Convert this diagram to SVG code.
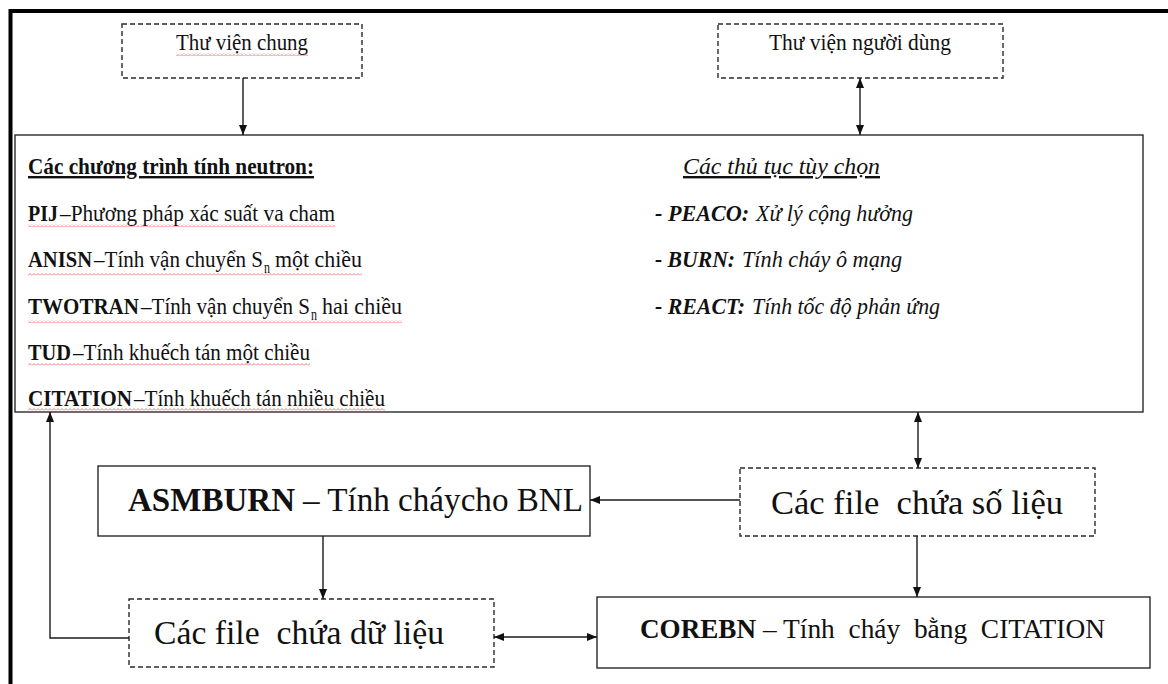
<svg xmlns="http://www.w3.org/2000/svg" width="1168" height="684" viewBox="0 0 1168 684">
<defs>
<style>
text{font-family:"Liberation Serif","Times New Roman",serif;fill:#111}
.box{fill:#fff;stroke:#2a2a2a;stroke-width:1.4}
.dash{fill:#fff;stroke:#2a2a2a;stroke-width:1.4;stroke-dasharray:5 3}
.conn{fill:none;stroke:#1a1a1a;stroke-width:1.4}
.frame{fill:none;stroke:#000;stroke-width:4}
.t23{font-size:23px}
.t24{font-size:24px}
.t27{font-size:27px}
.t33{font-size:33px}
.b{font-weight:bold}
.i{font-style:italic}
.sub{font-size:16px}
.sq{fill:url(#sq);opacity:0.75}
</style>
<marker id="ah" viewBox="0 0 10 8" refX="10" refY="4" markerWidth="10" markerHeight="8" markerUnits="userSpaceOnUse" orient="auto-start-reverse"><path d="M0,0 L10,4 L0,8 z" fill="#111"/></marker>
<pattern id="sq" width="4" height="3" patternUnits="userSpaceOnUse"><path d="M0,2.5 L2,0.5 L4,2.5" fill="none" stroke="#d22" stroke-width="0.8"/></pattern>
</defs>
<rect width="1168" height="684" fill="#fff"/>
<path class="frame" d="M10.5,684 V11 H1168"/>

<g id="thu-vien-chung">
<rect class="dash" x="122" y="24" width="240" height="54"/>
<text class="t23" x="242" y="50" text-anchor="middle" textLength="132" lengthAdjust="spacingAndGlyphs">Thư viện chung</text>
<rect class="sq" x="176" y="53" width="132" height="3"/>
</g>

<g id="thu-vien-nguoi-dung">
<rect class="dash" x="718" y="24" width="285" height="54"/>
<text class="t23" x="860" y="50" text-anchor="middle" textLength="182" lengthAdjust="spacingAndGlyphs">Thư viện người dùng</text>
</g>

<g id="chuong-trinh">
<rect class="box" x="15" y="135" width="1128" height="277"/>
<text class="t24 b" x="28" y="174" text-decoration="underline" textLength="286" lengthAdjust="spacingAndGlyphs">Các chương trình tính neutron:</text>

<text class="t24 b" x="28" y="221" textLength="30" lengthAdjust="spacingAndGlyphs">PIJ</text>
<text class="t24" x="60" y="221" textLength="275" lengthAdjust="spacingAndGlyphs">–Phương pháp xác suất va cham</text>

<text class="t24 b" x="28" y="267" textLength="64" lengthAdjust="spacingAndGlyphs">ANISN</text>
<text class="t24" x="94" y="267" textLength="169" lengthAdjust="spacingAndGlyphs">–Tính vận chuyển S</text>
<text class="sub" x="264" y="273" textLength="6" lengthAdjust="spacingAndGlyphs">n</text>
<text class="t24" x="275" y="267" textLength="87" lengthAdjust="spacingAndGlyphs">một chiều</text>

<text class="t24 b" x="28" y="314" textLength="111" lengthAdjust="spacingAndGlyphs">TWOTRAN</text>
<text class="t24" x="141" y="314" textLength="169" lengthAdjust="spacingAndGlyphs">–Tính vận chuyển S</text>
<text class="sub" x="311" y="320" textLength="6" lengthAdjust="spacingAndGlyphs">n</text>
<text class="t24" x="322" y="314" textLength="80" lengthAdjust="spacingAndGlyphs">hai chiều</text>

<text class="t24 b" x="28" y="360" textLength="43" lengthAdjust="spacingAndGlyphs">TUD</text>
<text class="t24" x="73" y="360" textLength="237" lengthAdjust="spacingAndGlyphs">–Tính khuếch tán một chiều</text>

<text class="t24 b" x="28" y="406" textLength="104" lengthAdjust="spacingAndGlyphs">CITATION</text>
<text class="t24" x="134" y="406" textLength="251" lengthAdjust="spacingAndGlyphs">–Tính khuếch tán nhiều chiều</text>

<rect class="sq" x="28" y="224" width="307" height="3"/>
<rect class="sq" x="28" y="273" width="334" height="3"/>
<rect class="sq" x="28" y="320" width="374" height="3"/>
<rect class="sq" x="28" y="363" width="282" height="3"/>
<rect class="sq" x="28" y="408" width="357" height="3"/>

<text class="t24 i" x="683" y="174" text-decoration="underline" textLength="197" lengthAdjust="spacingAndGlyphs">Các thủ tục tùy chọn</text>
<text class="t24 i b" x="655" y="221" textLength="94" lengthAdjust="spacingAndGlyphs">- PEACO:</text>
<text class="t24 i" x="756" y="221" textLength="157" lengthAdjust="spacingAndGlyphs">Xử lý cộng hưởng</text>
<text class="t24 i b" x="655" y="267" textLength="80" lengthAdjust="spacingAndGlyphs">- BURN:</text>
<text class="t24 i" x="742" y="267" textLength="160" lengthAdjust="spacingAndGlyphs">Tính cháy ô mạng</text>
<text class="t24 i b" x="655" y="314" textLength="90" lengthAdjust="spacingAndGlyphs">- REACT:</text>
<text class="t24 i" x="752" y="314" textLength="188" lengthAdjust="spacingAndGlyphs">Tính tốc độ phản ứng</text>
</g>

<g id="asmburn">
<rect class="box" x="98" y="466" width="492" height="70"/>
<text class="t33 b" x="128" y="511" textLength="167" lengthAdjust="spacingAndGlyphs">ASMBURN</text>
<text class="t33" x="303" y="511" textLength="280" lengthAdjust="spacingAndGlyphs">– Tính cháycho BNL</text>
</g>

<g id="file-so-lieu">
<rect class="dash" x="740" y="468" width="355" height="68"/>
<text class="t33" x="917" y="514" text-anchor="middle" textLength="292" lengthAdjust="spacingAndGlyphs" xml:space="preserve">Các file  chứa số liệu</text>
</g>

<g id="file-du-lieu">
<rect class="dash" x="129" y="599" width="365" height="68"/>
<text class="t33" x="299" y="644" text-anchor="middle" textLength="290" lengthAdjust="spacingAndGlyphs" xml:space="preserve">Các file  chứa dữ liệu</text>
</g>

<g id="corebn">
<rect class="box" x="597" y="597" width="553" height="71"/>
<text class="t27 b" x="640" y="638" textLength="116" lengthAdjust="spacingAndGlyphs">COREBN</text>
<text class="t27" x="763" y="638" textLength="342" lengthAdjust="spacingAndGlyphs" xml:space="preserve">– Tính  cháy  bằng  CITATION</text>
</g>

<g id="connectors">
<path class="conn" d="M243,78 V135" marker-end="url(#ah)"/>
<path class="conn" d="M860,78 V135" marker-start="url(#ah)" marker-end="url(#ah)"/>
<path class="conn" d="M918,412 V468" marker-start="url(#ah)" marker-end="url(#ah)"/>
<path class="conn" d="M740,500 H590" marker-end="url(#ah)"/>
<path class="conn" d="M917,536 V597" marker-end="url(#ah)"/>
<path class="conn" d="M323,536 V599" marker-end="url(#ah)"/>
<path class="conn" d="M494,637 H597" marker-start="url(#ah)" marker-end="url(#ah)"/>
<path class="conn" d="M129,638 H50 V412" marker-end="url(#ah)"/>
</g>
</svg>
